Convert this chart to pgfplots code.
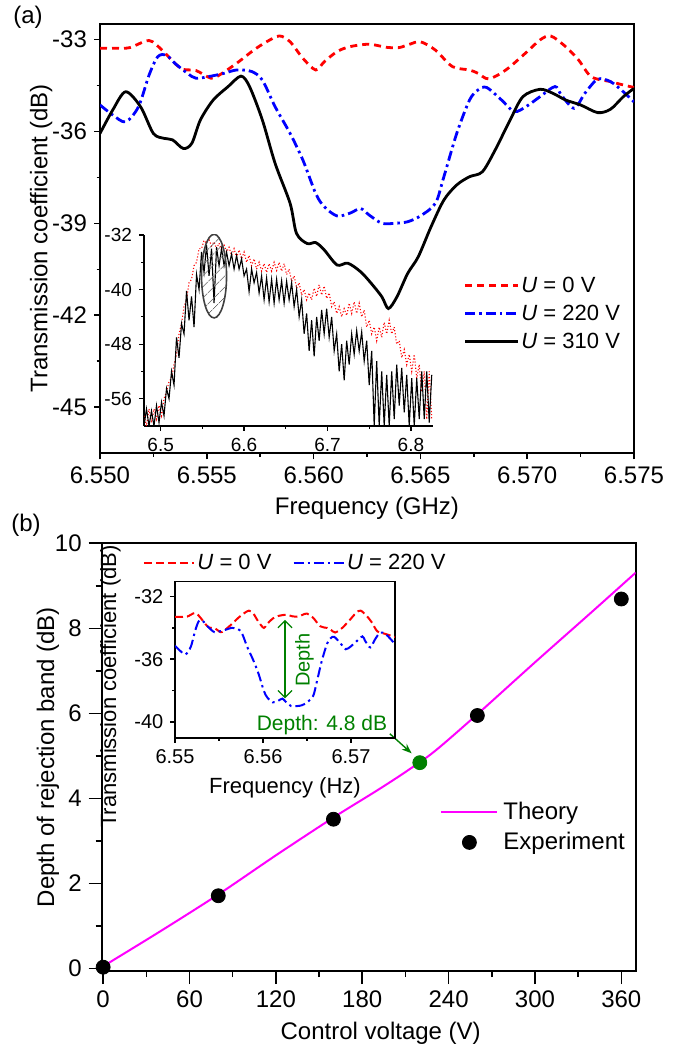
\documentclass[border=0pt]{standalone}
\usepackage{fontspec}
\setmainfont{Liberation Sans}
\usepackage{pgfplots}
\usepackage{pgfplotstable}
\pgfplotsset{compat=1.18}
\usetikzlibrary{patterns.meta,arrows.meta}

\definecolor{cred}{RGB}{255,0,0}
\definecolor{cblue}{RGB}{0,0,255}
\definecolor{cmag}{RGB}{255,0,255}
\definecolor{cgreen}{RGB}{0,128,0}

% U = 0 V
\pgfplotstableread{
x y
6.5500 -33.29
6.5508 -33.29
6.5514 -33.27
6.5523 -33.04
6.5529 -33.35
6.5535 -33.78
6.5539 -33.98
6.5545 -34.02
6.5552 -34.27
6.5556 -34.16
6.5564 -33.78
6.5572 -33.35
6.5578 -33.08
6.5584 -32.89
6.5589 -33.08
6.5595 -33.62
6.5601 -34.00
6.5605 -33.73
6.5611 -33.40
6.5617 -33.24
6.5626 -33.16
6.5634 -33.26
6.5640 -33.27
6.5645 -33.16
6.5650 -33.08
6.5657 -33.35
6.5665 -33.89
6.5673 -34.00
6.5677 -34.11
6.5682 -34.29
6.5690 -34.00
6.5700 -33.40
6.5706 -33.02
6.5711 -32.89
6.5718 -33.24
6.5724 -33.67
6.5730 -34.22
6.5739 -34.38
6.5745 -34.49
6.5750 -34.57
}\tabzero

% U = 220 V
\pgfplotstableread{
x y
6.5500 -35.14
6.5506 -35.47
6.5512 -35.69
6.5518 -35.20
6.5523 -34.16
6.5527 -33.57
6.5531 -33.51
6.5535 -33.78
6.5541 -34.11
6.5545 -34.27
6.5552 -34.20
6.5558 -34.11
6.5564 -34.00
6.5571 -34.05
6.5576 -34.33
6.5582 -35.20
6.5589 -36.07
6.5595 -36.94
6.5601 -38.03
6.5605 -38.46
6.5611 -38.76
6.5617 -38.67
6.5622 -38.52
6.5626 -38.73
6.5632 -39.00
6.5638 -39.00
6.5644 -38.95
6.5650 -38.76
6.5657 -38.35
6.5661 -37.48
6.5667 -36.07
6.5673 -34.98
6.5677 -34.65
6.5681 -34.57
6.5688 -34.98
6.5694 -35.36
6.5700 -35.17
6.5706 -34.87
6.5713 -34.54
6.5716 -34.82
6.5722 -35.25
6.5727 -34.76
6.5733 -34.30
6.5739 -34.38
6.5745 -34.71
6.5750 -35.04
}\tabtwo

% U = 310 V
\pgfplotstableread{
x y
6.5500 -36.07
6.5506 -35.30
6.5512 -34.71
6.5519 -35.20
6.5525 -36.07
6.5530 -36.23
6.5534 -36.28
6.5539 -36.56
6.5543 -36.39
6.5547 -35.63
6.5553 -34.98
6.5560 -34.54
6.5566 -34.20
6.5570 -34.54
6.5576 -35.63
6.5582 -37.05
6.5589 -38.35
6.5592 -39.33
6.5597 -39.66
6.5601 -39.63
6.5605 -39.87
6.5611 -40.36
6.5616 -40.30
6.5622 -40.58
6.5627 -40.96
6.5632 -41.40
6.5635 -41.78
6.5639 -41.40
6.5644 -40.64
6.5649 -40.09
6.5655 -39.11
6.5661 -38.24
6.5667 -37.75
6.5673 -37.48
6.5679 -37.32
6.5685 -36.61
6.5692 -35.63
6.5698 -34.87
6.5706 -34.63
6.5712 -34.76
6.5718 -34.98
6.5725 -35.14
6.5733 -35.39
6.5739 -35.28
6.5745 -34.87
6.5750 -34.60
}\tabthree

% wide band spectrum, black
\pgfplotstableread{
x y
6.480 -60
6.483 -57.5
6.486 -60
6.489 -57.8
6.492 -60
6.495 -57
6.498 -59.5
6.501 -56.5
6.504 -58.5
6.507 -54.5
6.510 -56
6.513 -52
6.516 -54
6.519 -47
6.522 -50
6.525 -45
6.528 -46.5
6.531 -40.2
6.534 -44.5
6.537 -41
6.540 -45.5
6.543 -37.8
6.546 -40
6.549 -34.5
6.552 -37.5
6.555 -33.5
6.558 -38
6.561 -34
6.564 -42
6.567 -33.8
6.570 -36.5
6.573 -34
6.576 -36.5
6.579 -34.5
6.582 -36.5
6.585 -34.8
6.588 -37
6.591 -35
6.594 -37
6.597 -35.5
6.600 -38
6.603 -37
6.606 -40.3
6.609 -37
6.612 -39
6.615 -37.5
6.618 -40.5
6.621 -38
6.624 -41.5
6.627 -38.3
6.630 -41.8
6.633 -38.5
6.636 -42
6.639 -38.5
6.642 -41.5
6.645 -38.7
6.648 -42
6.651 -38.8
6.654 -41.5
6.657 -39
6.660 -42.5
6.663 -40
6.666 -44
6.669 -41.5
6.672 -46.5
6.675 -43.5
6.678 -49
6.681 -44.5
6.684 -49.8
6.687 -44
6.690 -47.5
6.693 -43
6.696 -46.5
6.699 -42.8
6.702 -47
6.705 -44
6.708 -49
6.711 -46.5
6.714 -52
6.717 -48
6.720 -53.3
6.723 -47.5
6.726 -51
6.729 -46.5
6.732 -49.5
6.735 -46
6.738 -49
6.741 -46.2
6.744 -50.5
6.747 -47.5
6.750 -54
6.753 -49
6.756 -60
6.759 -50.5
6.762 -60
6.765 -52
6.768 -60
6.771 -52.5
6.774 -60
6.777 -52
6.780 -59
6.783 -51
6.786 -57
6.789 -51.5
6.792 -58
6.795 -52.5
6.798 -60
6.801 -53
6.804 -60
6.807 -53
6.810 -59
6.813 -52
6.816 -59
6.819 -52
6.822 -59.5
6.825 -52.5
}\tabwideK

% wide band spectrum, red
\pgfplotstableread{
x y
6.480 -58.5
6.483 -60
6.486 -57.5
6.489 -59.5
6.492 -57.5
6.495 -59
6.498 -57
6.501 -58.5
6.504 -56
6.507 -55
6.510 -53.5
6.513 -53
6.516 -51
6.519 -49.5
6.522 -46.5
6.525 -45
6.528 -42.5
6.531 -41.5
6.534 -39
6.537 -38.5
6.540 -36.5
6.543 -36
6.546 -34
6.549 -34
6.552 -32.8
6.555 -33.2
6.558 -32.7
6.561 -33.6
6.564 -33
6.567 -34
6.570 -33.2
6.573 -34.2
6.576 -33.5
6.579 -34.5
6.582 -33.8
6.585 -35
6.588 -34
6.591 -35.3
6.594 -34.2
6.597 -35.5
6.600 -34.5
6.603 -36
6.606 -35
6.609 -36.5
6.612 -35.5
6.615 -37
6.618 -36
6.621 -37.3
6.624 -36.2
6.627 -37.5
6.630 -36.2
6.633 -37.3
6.636 -36
6.639 -37.2
6.642 -36
6.645 -37.3
6.648 -36.2
6.651 -37.8
6.654 -37
6.657 -38.8
6.660 -38
6.663 -39.8
6.666 -39
6.669 -40.8
6.672 -40
6.675 -41.5
6.678 -40.5
6.681 -41.5
6.684 -39.8
6.687 -41
6.690 -39.3
6.693 -40.8
6.696 -39.5
6.699 -41.3
6.702 -40.5
6.705 -42.5
6.708 -41.8
6.711 -43.5
6.714 -42.5
6.717 -44
6.720 -42.8
6.723 -43.8
6.726 -42
6.729 -43.5
6.732 -41.8
6.735 -43.5
6.738 -42
6.741 -44
6.744 -43
6.747 -45.5
6.750 -44.5
6.753 -46.5
6.756 -45.5
6.759 -47.5
6.762 -45.5
6.765 -47
6.768 -44.8
6.771 -46.5
6.774 -44.5
6.777 -46.5
6.780 -45.5
6.783 -48
6.786 -47.5
6.789 -50
6.792 -48.8
6.795 -51
6.798 -49.5
6.801 -52
6.804 -49.5
6.807 -53
6.810 -51
6.813 -55
6.816 -52
6.819 -59
6.822 -52
6.825 -59
}\tabwideR

\newcommand{\lgA}{\fontsize{11}{13}\selectfont}
\newcommand{\lgB}{\fontsize{12}{14}\selectfont}

\pgfplotsset{
  base/.style={
    scale only axis, anchor=south west,
    axis line style={line width=0.8pt},
    every tick/.style={black, line width=0.8pt},
    tick align=outside, xtick pos=left, ytick pos=left,
    /pgf/number format/assume math mode=true,
    tick label style={font=\fontsize{12}{14}\selectfont},
    label style={font=\fontsize{12}{14}\selectfont},
    legend cell align=left,
    legend style={draw=none, fill=none, inner sep=0pt},
  },
  zerostyle/.style={cred, line width=1.4pt, dash pattern=on 3.5pt off 2.5pt},
  twostyle/.style={cblue, line width=1.4pt, dash pattern=on 5pt off 2pt on 1.3pt off 2pt},
  lineimgA/.style={legend image code/.code={\draw[##1] (0pt,0pt) -- (26.4pt,0pt);}},
  lineimgB/.style={legend image code/.code={\draw[##1] (0pt,0pt) -- (28pt,0pt);}},
  lineimgC/.style={legend image code/.code={\draw[##1] (0pt,0pt) -- (25.3pt,0pt);}},
  dotimg/.style={legend image code/.code={\draw[##1] plot coordinates {(14pt,0pt)};}},
}

\begin{document}
\begin{tikzpicture}
\useasboundingbox (0,0) rectangle (344.5pt,526.5pt);

% ---------- (a) ----------
\begin{axis}[base,
  at={(50pt,299.85pt)}, width=267pt, height=214.65pt,
  xmin=6.55, xmax=6.575, ymin=-46.5, ymax=-32.5,
  xtick={6.550,6.555,6.560,6.565,6.570,6.575}, minor x tick num=1,
  ytick={-45,-42,-39,-36,-33}, minor y tick num=1,
  major tick length=3pt, minor tick length=1.7pt,
  xticklabel style={/pgf/number format/.cd,fixed,fixed zerofill,precision=3},
  xlabel={Frequency (GHz)}, ylabel={Transmission coefficient (dB)},
  ylabel style={at={(axis description cs:-0.11,0.5)}, anchor=center},
  legend style={at={(0.6805,0.4177)}, anchor=north west, row sep=3pt,
    nodes={inner sep=1pt, text height=8pt, text depth=1pt}},
]
\addplot[zerostyle, smooth, tension=0.5, lineimgA] table {\tabzero};
\addlegendentry{\lgA\textit{U} = 0 V}
\addplot[twostyle, smooth, tension=0.5, lineimgA] table {\tabtwo};
\addlegendentry{\lgA\textit{U} = 220 V}
\addplot[black, line width=1.4pt, smooth, tension=0.5, lineimgA] table {\tabthree};
\addlegendentry{\lgA\textit{U} = 310 V}
\end{axis}

\begin{axis}[base,
  at={(72pt,313.5pt)}, width=144.5pt, height=95.5pt,
  xmin=6.48, xmax=6.8265, ymin=-60, ymax=-32,
  axis x line*=bottom, axis y line*=left,
  tick align=outside,
  xtick={6.5,6.6,6.7,6.8}, minor x tick num=1,
  ytick={-56,-48,-40,-32}, minor y tick num=1,
  major tick length=2.5pt, minor tick length=1.5pt,
  axis line style={line width=0.6pt},
  every tick/.style={black, line width=0.6pt},
  tick label style={font=\fontsize{9.5}{11}\selectfont},
  xticklabel style={/pgf/number format/.cd,fixed,fixed zerofill,precision=1},
]
\addplot[cred, line width=0.55pt, densely dotted] table {\tabwideR};
\addplot[black, line width=0.55pt] table {\tabwideK};
\draw[black!75, line width=0.8pt, pattern={Lines[angle=45,distance=4pt,line width=0.35pt]}, pattern color=black!70]
  (axis cs:6.564,-38.03) ellipse [x radius=6.25pt, y radius=20.9pt];
\end{axis}

\node[font=\fontsize{12}{14}\selectfont] at (14pt,518pt) {(a)};

% ---------- (b) ----------
\begin{axis}[base,
  at={(50.85pt,41pt)}, width=267pt, height=213.85pt,
  xmin=-1, xmax=370, ymin=-0.06, ymax=10,
  xtick={0,60,...,360}, minor x tick num=1,
  ytick={0,2,...,10}, minor y tick num=1,
  major tick length=6.5pt, minor tick length=3pt,
  xlabel={Control voltage (V)}, ylabel={Depth of rejection band (dB)},
  xlabel style={xshift=6pt},
  ylabel style={at={(axis description cs:-0.1006,0.5)}, anchor=center},
  legend style={at={(0.6335,0.3993)}, anchor=north west, row sep=3.2pt,
    nodes={inner sep=1pt, text height=8.6pt, text depth=1.2pt},
    /tikz/every odd column/.append style={column sep=1.5pt}},
]
\addlegendimage{cmag, line width=1pt, lineimgB}
\addlegendentry{\lgB Theory}
\addlegendimage{black, mark=*, mark size=3.5pt, dotimg}
\addlegendentry{\lgB Experiment}
\addplot[cmag, line width=1pt, smooth, tension=0.5, forget plot] coordinates {
  (0,0.05) (40,0.88) (80,1.74) (120,2.66) (160,3.55) (190,4.18) (210,4.62)
  (230,5.10) (260,5.98) (300,7.20) (340,8.40) (370,9.31)};
\addplot[only marks, mark=*, mark size=3.5pt, black, forget plot] coordinates {
  (0,0.03) (80,1.71) (160,3.51) (260,5.95) (360,8.69)};
\addplot[only marks, mark=*, mark size=3.5pt, cgreen, forget plot] coordinates {(220,4.84)};
\draw[cgreen, line width=0.7pt, -{Stealth[length=5pt]}] (axis cs:199.2,5.52) -- (axis cs:214.3,5.06);
\end{axis}

\begin{axis}[base,
  at={(87.5pt,157.5pt)}, width=110pt, height=78.15pt,
  xmin=6.55, xmax=6.575, ymin=-41.04, ymax=-31.04,
  xtick={6.55,6.56,6.57}, minor x tick num=1,
  ytick={-40,-36,-32}, minor y tick num=1,
  major tick length=2.3pt, minor tick length=1.3pt,
  axis line style={line width=0.7pt},
  tick label style={font=\fontsize{10}{12}\selectfont},
  label style={font=\fontsize{11}{13}\selectfont},
  xticklabel style={/pgf/number format/.cd,fixed,fixed zerofill,precision=2},
  xlabel={Frequency (Hz)}, ylabel={Transmission coefficient (dB)},
  ylabel style={at={(ticklabel cs:0.33)}},
  legend columns=2,
  legend style={at={(-0.148,1.1216)}, anchor=west,
    nodes={inner sep=1pt, text height=8pt, text depth=1pt},
    /tikz/every even column/.append style={column sep=9.5pt}},
]
\addplot[cred, line width=1pt, dash pattern=on 4pt off 2pt, smooth, tension=0.5, lineimgC] table {\tabzero};
\addlegendentry{\lgA\textit{U} = 0 V}
\addplot[cblue, line width=1pt, dash pattern=on 5pt off 2pt on 1.2pt off 2pt, smooth, tension=0.5, lineimgC] table {\tabtwo};
\addlegendentry{\lgA\textit{U} = 220 V}
\draw[cgreen, line width=0.6pt, {Straight Barb[length=3.5pt]}-{Straight Barb[length=3.5pt]}]
  (axis cs:6.5625,-33.49) -- (axis cs:6.5625,-38.5);
\node[cgreen, rotate=90, font=\fontsize{10}{12}\selectfont] at (axis cs:6.5647,-36.05) {Depth};
\node[cgreen, font=\fontsize{10.5}{12}\selectfont] at (axis cs:6.5667,-40.21) {Depth: 4.8 dB};
\end{axis}

\node[font=\fontsize{12}{14}\selectfont] at (13pt,264pt) {(b)};
\end{tikzpicture}
\end{document}
